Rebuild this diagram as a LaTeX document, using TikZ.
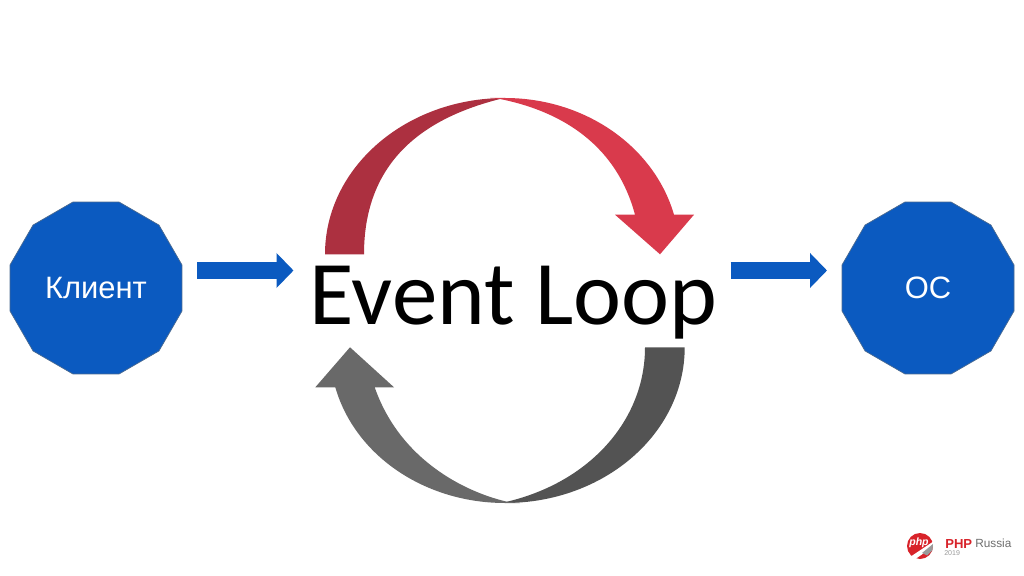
\documentclass[tikz,border=0pt]{standalone}
\usepackage{fontspec}
\setmainfont{Liberation Sans}
\newfontfamily\loopfont{Carlito}
\usetikzlibrary{shapes.geometric,arrows.meta}
\definecolor{blueFill}{HTML}{0B5AC0}
\definecolor{blueEdge}{HTML}{4A6A90}
\definecolor{redDark}{HTML}{AC3040}
\definecolor{redLight}{HTML}{D93A4C}
\definecolor{greyDark}{HTML}{535353}
\definecolor{greyLight}{HTML}{696969}
\definecolor{logoRed}{HTML}{D8232A}
\definecolor{logoGrey}{HTML}{6E6E6E}
\tikzset{
  endpoint/.style={regular polygon,regular polygon sides=12,minimum size=4.45cm,inner sep=0pt,outer sep=0pt,
    draw=blueEdge,line width=0.5pt,fill=blueFill,text=white,font=\fontsize{22}{24}\selectfont},
  blockarrow/.style={draw=blueFill,line width=0.425cm,-{Triangle[length=0.425cm,width=0.85cm,fill=blueFill]}},
}
\begin{document}
\begin{tikzpicture}[x=0.025cm,y=-0.025cm]
\useasboundingbox (0,0) rectangle (1024,576);
\fill[white] (0,0) rectangle (1024,576);

% top curved arrow
\fill[redDark] (325,254.3) .. controls (325,167.8) and (405.6,98) .. (505,98) -- (500,99)
  .. controls (425,118) and (364,160) .. (364,254.3) -- cycle;
\fill[redLight] (490,98) -- (505,98) .. controls (584.6,98) and (654,146.1) .. (674,214.7)
  -- (694,214.7) -- (660,254.3) -- (615,214.7) -- (635,214.7)
  .. controls (615,140) and (555,110) .. (500,99) -- cycle;

% bottom curved arrow
\fill[greyDark] (684.7,347.3) .. controls (684.7,433.5) and (604.2,503) .. (505,503) -- (507,501.7)
  .. controls (590,482) and (645,420) .. (645,347.3) -- cycle;
\fill[greyLight] (520,503) -- (505,503) .. controls (425.4,503) and (355.2,456.2) .. (335.3,387.3)
  -- (315.3,387.3) -- (350,347.3) -- (394,387.3) -- (374.7,387.3)
  .. controls (400,460) and (465,492) .. (507,501.7) -- cycle;

\node[endpoint] (client) at (96,288) {Клиент};
\node[endpoint] (os) at (928,288) {ОС};
\node[font=\loopfont\fontsize{64.7}{70}\selectfont] (loop) at (513.5,303) {Event Loop};

\coordinate (clientOut) at (197,270.5);
\coordinate (loopIn) at (293.5,270.5);
\coordinate (loopOut) at (730.5,270.5);
\coordinate (osIn) at (827,270.5);
\draw[blockarrow] (clientOut) -- (loopIn);
\draw[blockarrow] (loopOut) -- (osIn);

% logo
\fill[logoRed] (920,546) circle (13);
\fill[white] (934,541) -- (934,546) -- (914,560) -- (910,557) -- cycle;
\fill[logoGrey!70] (933,544) -- (932.5,550) -- (927,555.5) -- (922,553) -- cycle;
\node[text=white,font=\bfseries\itshape\fontsize{7.5}{8}\selectfont] (logoPhp) at (919,543) {php};
\node[text=logoRed,font=\bfseries\fontsize{9.3}{10}\selectfont,anchor=west,inner sep=0pt] (logoName) at (945,543.5) {PHP};
\node[text=logoGrey,font=\fontsize{8.4}{10}\selectfont,anchor=west,inner sep=0pt] (logoCity) at (975,543.5) {Russia};
\node[text=logoGrey!70,font=\fontsize{5}{5}\selectfont,anchor=west,inner sep=0pt] (logoYear) at (944,553.5) {2019};
\end{tikzpicture}
\end{document}
